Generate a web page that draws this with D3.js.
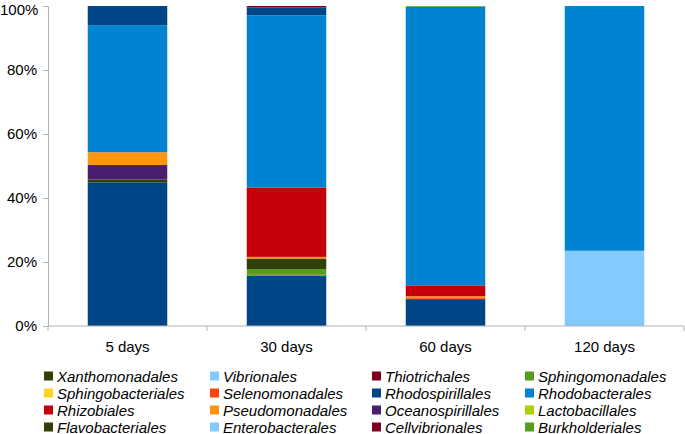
<!DOCTYPE html>
<html>
<head>
<meta charset="utf-8">
<script src="https://cdn.jsdelivr.net/npm/d3@7"></script>
<style>
  html, body { margin: 0; padding: 0; background: #fff; }
  svg { display: block; font-family: "Liberation Sans", Arial, sans-serif; }
</style>
</head>
<body>
<svg id="chart" width="685" height="434"></svg>
<script>
// ---- data ----
const categories = ["5 days", "30 days", "60 days", "120 days"];
const yTickLabels = ["0%", "20%", "40%", "60%", "80%", "100%"];

// series (bottom to top of the stack); first three are not shown in the legend
const unlistedA         = [44.9, 15.7,  8.4,  0];
const unlistedB         = [0,     0.3,  0.3,  0];
const unlistedC         = [0,     0,    0,    0];
const burkholderiales   = [0,     1.8,  0,    0];
const cellvibrionales   = [0,     0,    0,    0];
const enterobacterales  = [0,     0,    0,   23.5];
const flavobacteriales  = [0.9,   3.3,  0,    0];
const lactobacillales   = [0,     0,    0,    0];
const oceanospirillales = [4.5,   0,    0,    0];
const pseudomonadales   = [4.0,   0.5,  0.6,  0];
const rhizobiales       = [0,    21.7,  3.4,  0];
const rhodobacterales   = [39.7, 53.8, 87.1, 76.5];
const rhodospirillales  = [6.0,   2.4,  0,    0];
const selenomonadales   = [0,     0,    0,    0];
const sphingobacteriales= [0,     0,    0,    0];
const sphingomonadales  = [0,     0,    0.2,  0];
const thiotrichales     = [0,     0.5,  0,    0];
const vibrionales       = [0,     0,    0,    0];
const xanthomonadales   = [0,     0,    0,    0];

const seriesNames = ["unlistedA","unlistedB","unlistedC","Burkholderiales","Cellvibrionales","Enterobacterales",
  "Flavobacteriales","Lactobacillales","Oceanospirillales","Pseudomonadales","Rhizobiales","Rhodobacterales",
  "Rhodospirillales","Selenomonadales","Sphingobacteriales","Sphingomonadales","Thiotrichales","Vibrionales","Xanthomonadales"];
const seriesValues = [unlistedA, unlistedB, unlistedC, burkholderiales, cellvibrionales, enterobacterales,
  flavobacteriales, lactobacillales, oceanospirillales, pseudomonadales, rhizobiales, rhodobacterales,
  rhodospirillales, selenomonadales, sphingobacteriales, sphingomonadales, thiotrichales, vibrionales, xanthomonadales];
const legendHidden = ["unlistedA","unlistedB","unlistedC"];

const palette = ["#004586","#ff420e","#ffd320","#579d1c","#7e0021","#83caff","#314004",
                 "#aecf00","#4b1f6f","#ff950e","#c5000b","#0084d1"];

// ---- layout ----
const svg = d3.select("#chart");
const plot = { left: 48, right: 684, top: 6, bottom: 326 };

const rows = categories.map((c, i) => {
  const r = { category: c };
  seriesNames.forEach((s, j) => r[s] = seriesValues[j][i]);
  return r;
});

const stack = d3.stack().keys(seriesNames).offset(d3.stackOffsetExpand);
const layers = stack(rows);

const x = d3.scaleBand().domain(categories).range([plot.left, plot.right])
  .paddingInner(0.5).paddingOuter(0.25);
const y = d3.scaleLinear().domain([0, 1]).range([plot.bottom, plot.top]);
const color = d3.scaleOrdinal().domain(seriesNames).range(seriesNames.map((s, i) => palette[i % palette.length]));

// bars
svg.append("g").selectAll("g").data(layers).join("g")
  .attr("fill", d => color(d.key))
  .selectAll("rect").data(d => d).join("rect")
  .attr("x", d => x(d.data.category))
  .attr("width", x.bandwidth())
  .attr("y", d => y(d[1]))
  .attr("height", d => Math.max(0, y(d[0]) - y(d[1])));

// y axis
const yAxis = d3.axisLeft(y).tickValues(d3.range(0, 1.0001, 0.2))
  .tickFormat((d, i) => yTickLabels[i]).tickSize(5).tickPadding(6);
const gy = svg.append("g").attr("transform", `translate(${plot.left},0)`).call(yAxis);
gy.select(".domain").attr("stroke", "#b3b3b3");
gy.selectAll(".tick line").attr("stroke", "#b3b3b3");
gy.selectAll(".tick text").attr("fill", "#000").style("font-size", "15px")
  .style("font-family", "Liberation Sans, Arial, sans-serif");
// keep the widest / topmost label inside the picture
gy.selectAll(".tick").each(function(d) {
  const t = d3.select(this).select("text");
  const bb = t.node().getBBox();
  const left = plot.left + bb.x;
  if (left < 0) t.attr("x", +t.attr("x") - left);
  const top = y(d) + bb.y;
  if (top < 0) t.attr("y", (+t.attr("y") || 0) - top);
});

// x axis
const gx = svg.append("g");
gx.append("line").attr("x1", plot.left).attr("x2", plot.right)
  .attr("y1", plot.bottom).attr("y2", plot.bottom).attr("stroke", "#b3b3b3");
const bounds = d3.range(categories.length + 1).map(i => plot.left + i * x.step());
gx.selectAll("line.tick").data(bounds).join("line").attr("class", "tick")
  .attr("x1", d => d).attr("x2", d => d)
  .attr("y1", plot.bottom).attr("y2", plot.bottom + 5).attr("stroke", "#b3b3b3");
gx.selectAll("text").data(categories).join("text")
  .attr("x", d => x(d) + x.bandwidth() / 2)
  .attr("y", 352)
  .attr("text-anchor", "middle")
  .style("font-size", "15px").attr("fill", "#000")
  .text(d => d);

// legend
const legendItems = seriesNames.filter(s => !legendHidden.includes(s)).slice().reverse();
const colX = [44, 210, 372, 525];
const rowY0 = 376, rowH = 17;
const lg = svg.append("g");
const item = lg.selectAll("g").data(legendItems).join("g")
  .attr("transform", (d, i) => `translate(${colX[i % 4]},${rowY0 + Math.floor(i / 4) * rowH})`);
item.append("rect").attr("x", 0).attr("y", -4.5).attr("width", 9).attr("height", 9)
  .attr("fill", d => color(d));
item.append("text").attr("x", 13).attr("y", 5.5)
  .style("font-size", "15px").style("font-style", "italic").attr("fill", "#000")
  .text(d => d);
</script>
</body>
</html>
